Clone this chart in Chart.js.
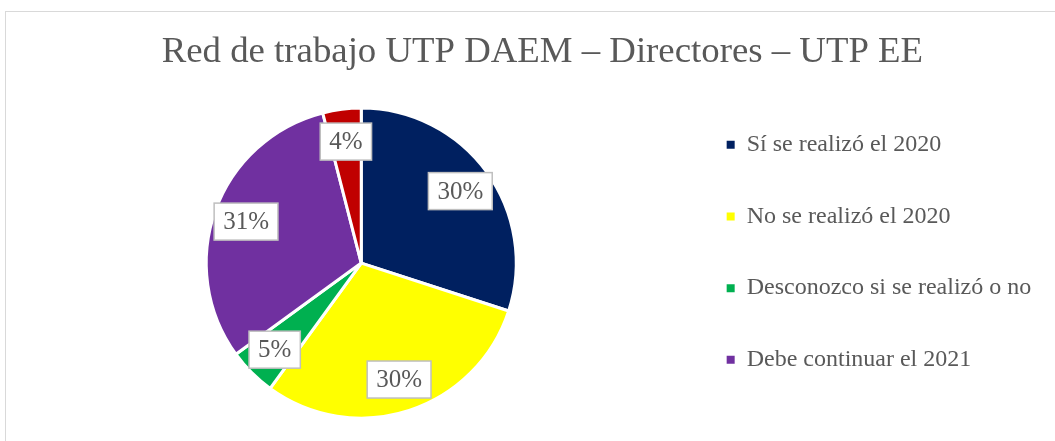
<!DOCTYPE html>
<html>
<head>
<meta charset="utf-8">
<script src="https://cdn.jsdelivr.net/npm/chart.js@4"></script>
<style>
  html, body { margin: 0; padding: 0; background: #fff; overflow: hidden; }
  #wrap { position: relative; width: 1055px; height: 441px; }
  #frame { position: absolute; left: 5px; top: 11px; width: 1200px; height: 600px;
           border-left: 1.5px solid #d9d9d9; border-top: 1.5px solid #d9d9d9; }
  #chart { position: absolute; left: 0; top: 0; }
</style>
</head>
<body>
<div id="wrap">
  <div id="frame"></div>
  <canvas id="chart" width="1055" height="441"></canvas>
</div>
<script>
// data
const categories = ["Sí se realizó el 2020", "No se realizó el 2020", "Desconozco si se realizó o no", "Debe continuar el 2021", ""];
const percents = [30, 30, 5, 31, 4];
const colors = ["#002060", "#FFFF00", "#00B050", "#7030A0", "#C00000"];
const chartTitle = "Red de trabajo UTP DAEM – Directores – UTP EE";

const textGray = "#595959";
const serif = "'Liberation Serif', 'Times New Roman', serif";
const legendSize = 24;
const legendPad = 47.67;
const legendBox = 8;

// work out right padding so the legend column sits where the original one does
const mctx = document.createElement("canvas").getContext("2d");
mctx.font = legendSize + "px " + serif;
const longest = Math.max(...categories.map(c => mctx.measureText(c).width));
const padRight = Math.max(0, 1055 - 679.5 - legendPad - legendBox - legendSize / 2 - longest - 9.5);

// boxed percentage labels, placed from each arc's own geometry
const boxLabels = {
  id: "boxLabels",
  afterDatasetsDraw(chart) {
    const ctx = chart.ctx;
    const meta = chart.getDatasetMeta(0);
    ctx.save();
    ctx.font = "25px " + serif;
    ctx.textAlign = "center";
    ctx.textBaseline = "middle";
    meta.data.forEach((arc, i) => {
      const p = arc.getProps(["x", "y", "startAngle", "endAngle", "outerRadius"], true);
      const mid = (p.startAngle + p.endAngle) / 2;
      const cx = p.x + Math.cos(mid) * p.outerRadius * 0.79;
      const cy = p.y + Math.sin(mid) * p.outerRadius * 0.79;
      const txt = percents[i] + "%";
      const w = ctx.measureText(txt).width + 18;
      const h = 37;
      ctx.fillStyle = "#fff";
      ctx.fillRect(cx - w / 2, cy - h / 2, w, h);
      ctx.strokeStyle = "#bfbfbf";
      ctx.lineWidth = 1.5;
      ctx.strokeRect(cx - w / 2, cy - h / 2, w, h);
      ctx.fillStyle = textGray;
      ctx.fillText(txt, cx, cy + 1);
    });
    ctx.restore();
  }
};

const ctx = document.getElementById("chart").getContext("2d");
new Chart(ctx, {
  type: "pie",
  data: {
    labels: categories,
    datasets: [{
      data: percents,
      backgroundColor: colors,
      borderColor: "#ffffff",
      borderWidth: 3
    }]
  },
  options: {
    responsive: false,
    animation: false,
    radius: 155,
    layout: { padding: { left: 43.5, right: padRight, top: 0, bottom: 0 } },
    plugins: {
      title: {
        display: true,
        text: chartTitle,
        color: textGray,
        font: { family: serif, size: 36.8, weight: "normal" },
        padding: { top: 30, bottom: 11 }
      },
      legend: {
        position: "right",
        align: "start",
        fullSize: false,
        labels: {
          color: textGray,
          font: { family: serif, size: legendSize },
          boxWidth: legendBox,
          boxHeight: legendBox,
          padding: legendPad,
          filter: item => item.index < 4,
          generateLabels(chart) {
            const base = Chart.overrides.pie.plugins.legend.labels.generateLabels(chart);
            return base.map(l => Object.assign(l, { lineWidth: 0 }));
          }
        }
      },
      tooltip: { enabled: false }
    }
  },
  plugins: [boxLabels]
});
</script>
</body>
</html>
